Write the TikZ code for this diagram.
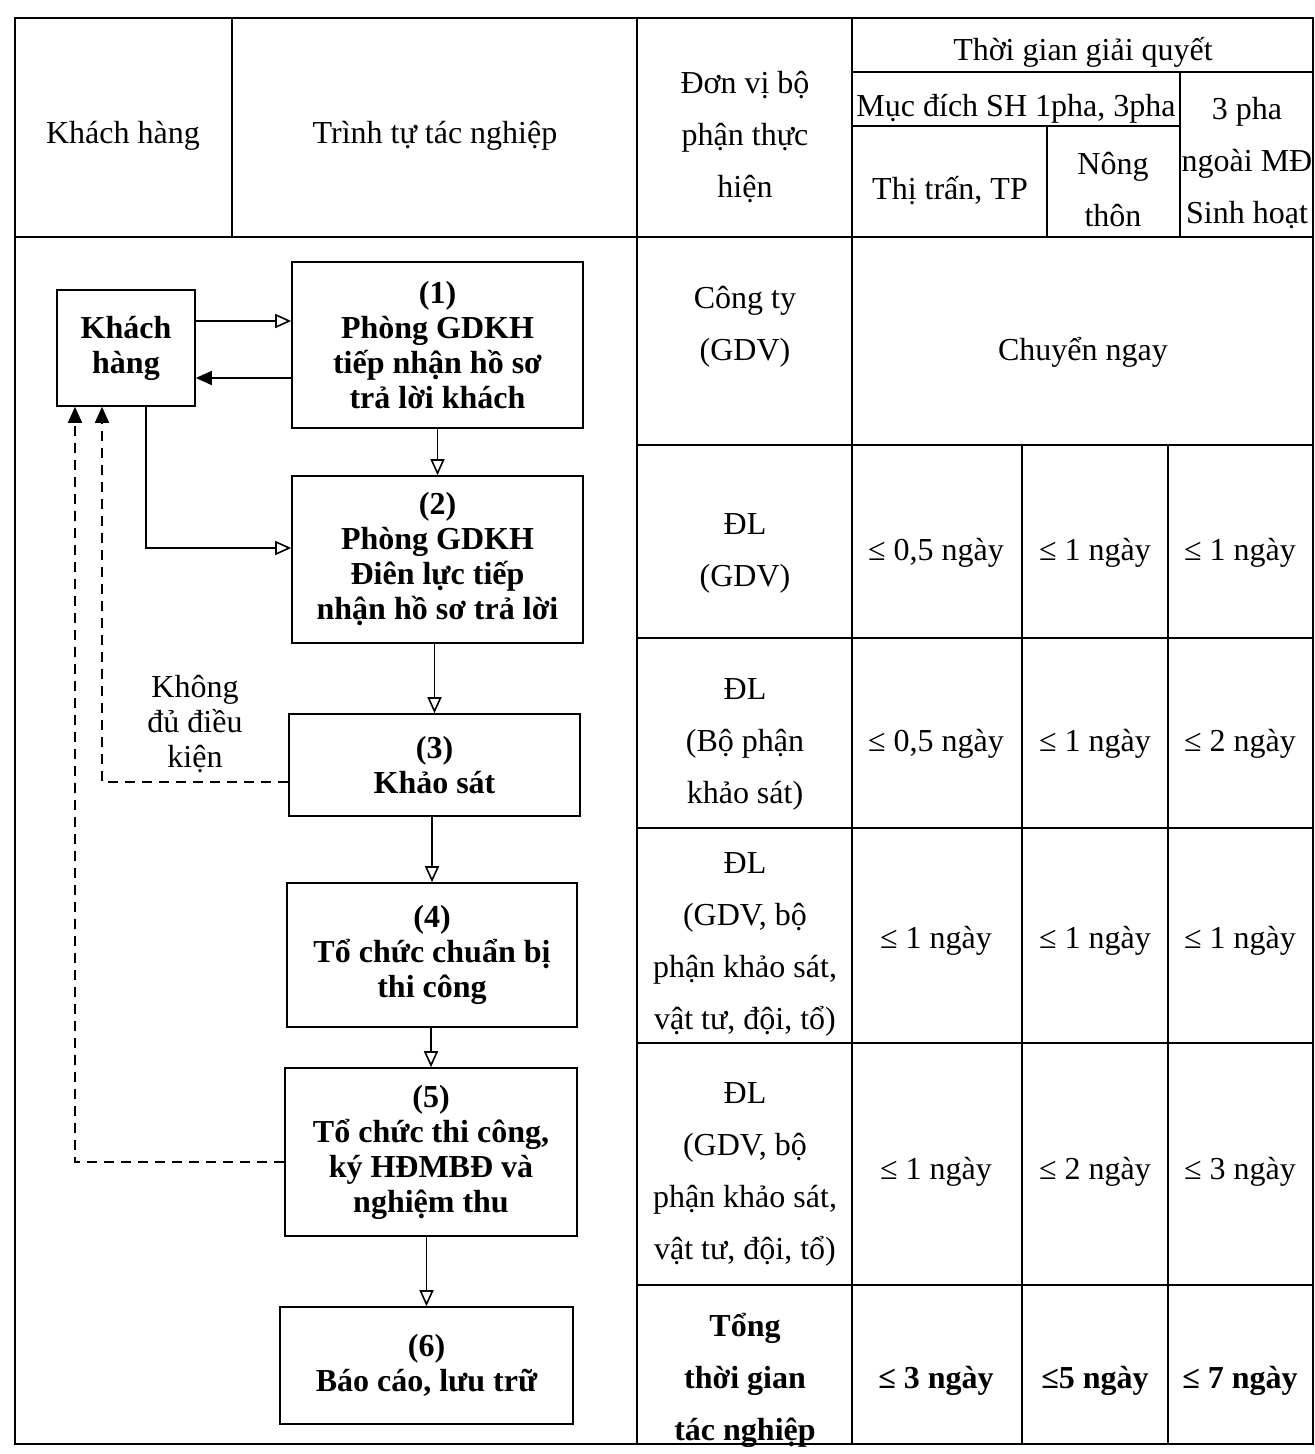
\documentclass[tikz,border=0pt]{standalone}
\usepackage{fontspec}
\setmainfont{Liberation Serif}
\usetikzlibrary{arrows.meta}

\begin{document}
\begin{tikzpicture}[x=0.5pt, y=-0.5pt,
                    cell/.style={align=center, font=\fontsize{16}{26}\selectfont},
                    boldcell/.style={cell, font=\bfseries\fontsize{16}{26}\selectfont},
                    stepbox/.style={draw, line width=.8pt, align=center, inner sep=0pt,
                                    font=\bfseries\fontsize{16}{17.5}\selectfont},
                    flow/.style={line width=.8pt, -{Triangle[open,length=8pt,width=7pt]}},
                    back/.style={line width=.8pt, -{Triangle[length=8pt,width=7pt]}},
                    nok/.style={back, dash pattern=on 5pt off 3.5pt}]
  \useasboundingbox (0,0) rectangle (1315,1454);

  % table lines
  \draw[line width=.8pt] (15,18) rectangle (1313,1444);
  \draw[line width=.8pt] (15,237) -- (1313,237);
  \draw[line width=.8pt] (232,18) -- (232,237);
  \draw[line width=.8pt] (637,18) -- (637,1444);
  \draw[line width=.8pt] (852,18) -- (852,1444);
  \draw[line width=.8pt] (852,72) -- (1313,72);
  \draw[line width=.8pt] (852,126) -- (1180,126);
  \draw[line width=.8pt] (1180,72) -- (1180,237);
  \draw[line width=.8pt] (1047,126) -- (1047,237);
  \draw[line width=.8pt] (637,445) -- (1313,445);
  \draw[line width=.8pt] (637,638) -- (1313,638);
  \draw[line width=.8pt] (637,828) -- (1313,828);
  \draw[line width=.8pt] (637,1043) -- (1313,1043);
  \draw[line width=.8pt] (637,1285) -- (1313,1285);
  \draw[line width=.8pt] (1022,445) -- (1022,1444);
  \draw[line width=.8pt] (1168,445) -- (1168,1444);

  % header
  \node[cell] (hkh) at (123,136) {Khách hàng};
  \node[cell] (htt) at (435,136) {Trình tự tác nghiệp};
  \node[cell] (hdv) at (745,137) {Đơn vị bộ\\phận thực\\hiện};
  \node[cell] (htg) at (1083,52) {Thời gian giải quyết};
  \node[cell] (hmd) at (1016,109) {Mục đích SH 1pha, 3pha};
  \node[cell] (hba) at (1247,163) {3 pha\\ngoài MĐ\\Sinh hoạt};
  \node[cell] (htp) at (950,191) {Thị trấn, TP};
  \node[cell] (hnt) at (1113,190) {Nông\\thôn};

  % don vi + thoi gian
  \node[cell] (dv1) at (745,327) {Công ty\\(GDV)};
  \node[cell] (tg1) at (1083,352) {Chuyển ngay};

  \node[cell] (dv2) at (745,553) {ĐL\\(GDV)};
  \node[cell] (t2a) at (936,553) {≤ 0,5 ngày};
  \node[cell] (t2b) at (1095,553) {≤ 1 ngày};
  \node[cell] (t2c) at (1240,553) {≤ 1 ngày};

  \node[cell] (dv3) at (745,744) {ĐL\\(Bộ phận\\khảo sát)};
  \node[cell] (t3a) at (936,744) {≤ 0,5 ngày};
  \node[cell] (t3b) at (1095,744) {≤ 1 ngày};
  \node[cell] (t3c) at (1240,744) {≤ 2 ngày};

  \node[cell] (dv4) at (745,944) {ĐL\\(GDV, bộ\\phận khảo sát,\\vật tư, đội, tổ)};
  \node[cell] (t4a) at (936,941) {≤ 1 ngày};
  \node[cell] (t4b) at (1095,941) {≤ 1 ngày};
  \node[cell] (t4c) at (1240,941) {≤ 1 ngày};

  \node[cell] (dv5) at (745,1174) {ĐL\\(GDV, bộ\\phận khảo sát,\\vật tư, đội, tổ)};
  \node[cell] (t5a) at (936,1172) {≤ 1 ngày};
  \node[cell] (t5b) at (1095,1172) {≤ 2 ngày};
  \node[cell] (t5c) at (1240,1172) {≤ 3 ngày};

  \node[boldcell] (dv6) at (745,1380) {Tổng\\thời gian\\tác nghiệp};
  \node[boldcell] (t6a) at (936,1381) {≤ 3 ngày};
  \node[boldcell] (t6b) at (1095,1381) {≤5 ngày};
  \node[boldcell] (t6c) at (1240,1381) {≤ 7 ngày};

  % flow chart
  \node[stepbox, minimum width=69pt, minimum height=58pt] (kh) at (126,348) {Khách\\hàng};
  \node[stepbox, minimum width=145.5pt, minimum height=83pt] (s1) at (437.5,345)
    {(1)\\Phòng GDKH\\tiếp nhận hồ sơ\\trả lời khách};
  \node[stepbox, minimum width=145.5pt, minimum height=83.5pt] (s2) at (437.5,559.5)
    {(2)\\Phòng GDKH\\Điên lực tiếp\\nhận hồ sơ trả lời};
  \node[stepbox, minimum width=145.5pt, minimum height=51pt] (s3) at (434.5,765)
    {(3)\\Khảo sát};
  \node[stepbox, minimum width=145pt, minimum height=72pt] (s4) at (432,955)
    {(4)\\Tổ chức chuẩn bị\\thi công};
  \node[stepbox, minimum width=146pt, minimum height=84pt] (s5) at (431,1152)
    {(5)\\Tổ chức thi công,\\ký HĐMBĐ và\\nghiệm thu};
  \node[stepbox, minimum width=146.5pt, minimum height=58.5pt] (s6) at (426.5,1365.5)
    {(6)\\Báo cáo, lưu trữ};
  \node[cell, font=\fontsize{16}{17.5}\selectfont] (nok) at (195,724) {Không\\đủ điều\\kiện};

  \draw[flow] (kh.east |- 0,321) -- (s1.west |- 0,321);
  \draw[back] (s1.west |- 0,378) -- (kh.east |- 0,378);
  \draw[flow] (s1.south -| s2) -- (s2.north);
  \draw[flow] (kh.south -| 146,0) |- (s2.west |- 0,548);
  \draw[flow] (s2.south -| s3) -- (s3.north);
  \draw[flow] (s3.south -| s4) -- (s4.north);
  \draw[flow] (s4.south -| s5) -- (s5.north);
  \draw[flow] (s5.south -| s6) -- (s6.north);
  \draw[nok] (s3.west |- 0,782) -| (kh.south -| 102,0);
  \draw[nok] (s5.west |- 0,1162) -| (kh.south -| 75,0);
\end{tikzpicture}
\end{document}
